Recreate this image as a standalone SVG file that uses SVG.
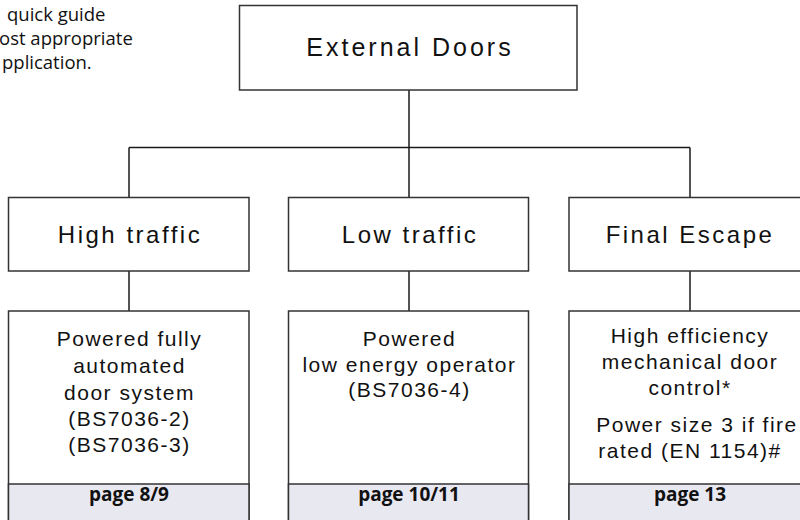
<svg xmlns="http://www.w3.org/2000/svg" width="800" height="520" viewBox="0 0 800 520">
  <style>
    .box { fill: #ffffff; stroke: #333333; stroke-width: 1.5; }
    .band { fill: #e8e8f1; stroke: #333333; stroke-width: 1.5; }
    .conn { fill: none; stroke: #1a1a1a; stroke-width: 1.5; }
    .hand { font-family: "Comic Sans MS", "Liberation Sans", sans-serif; fill: #111111; text-anchor: middle; }
    .title { font-size: 25px; letter-spacing: 3px; }
    .head { font-size: 24px; letter-spacing: 2.5px; }
    .body { font-size: 21px; letter-spacing: 1.5px; }
    .page { font-family: "Open Sans", "Noto Sans", sans-serif; font-size: 19px; font-weight: bold; fill: #111111; text-anchor: middle; }
    .intro { font-family: "Open Sans", "Noto Sans", sans-serif; font-size: 18.5px; fill: #111111; }
  </style>

  <g id="intro">
    <text class="intro" x="7" y="21">quick guide</text>
    <text class="intro" x="-1" y="45">ost appropriate</text>
    <text class="intro" x="2" y="69">pplication.</text>
  </g>

  <g id="connectors">
    <line class="conn" x1="409" y1="90" x2="409" y2="147.5"/>
    <line class="conn" x1="129" y1="147.5" x2="690" y2="147.5"/>
    <line class="conn" x1="129" y1="147.5" x2="129" y2="197.5"/>
    <line class="conn" x1="409" y1="147.5" x2="409" y2="197.5"/>
    <line class="conn" x1="690" y1="147.5" x2="690" y2="197.5"/>
    <line class="conn" x1="129" y1="271" x2="129" y2="311"/>
    <line class="conn" x1="409" y1="271" x2="409" y2="311"/>
    <line class="conn" x1="690" y1="271" x2="690" y2="311"/>
  </g>

  <g id="external-doors">
    <rect class="box" x="239.5" y="5.5" width="337.5" height="84.5"/>
    <text class="hand title" x="410" y="56">External Doors</text>
  </g>

  <g id="high-traffic">
    <rect class="box" x="8.5" y="197.5" width="240.5" height="73.5"/>
    <text class="hand head" x="130" y="243">High traffic</text>
  </g>

  <g id="low-traffic">
    <rect class="box" x="288.5" y="197.5" width="240" height="73.5"/>
    <text class="hand head" x="410" y="243">Low traffic</text>
  </g>

  <g id="final-escape">
    <rect class="box" x="569" y="197.5" width="240" height="73.5"/>
    <text class="hand head" x="690" y="243">Final Escape</text>
  </g>

  <g id="powered-fully-automated">
    <rect class="box" x="8.5" y="311" width="240.5" height="220"/>
    <rect class="band" x="8.5" y="484" width="240.5" height="47"/>
    <text class="hand body" x="129.5" y="346">Powered fully</text>
    <text class="hand body" x="129.5" y="373">automated</text>
    <text class="hand body" x="129.5" y="400">door system</text>
    <text class="hand body" x="129.5" y="426">(BS7036-2)</text>
    <text class="hand body" x="129.5" y="452">(BS7036-3)</text>
    <text class="page" x="129" y="501">page 8/9</text>
  </g>

  <g id="powered-low-energy">
    <rect class="box" x="288.5" y="311" width="240" height="220"/>
    <rect class="band" x="288.5" y="484" width="240" height="47"/>
    <text class="hand body" x="409.5" y="346">Powered</text>
    <text class="hand body" x="409.5" y="372">low energy operator</text>
    <text class="hand body" x="409.5" y="397">(BS7036-4)</text>
    <text class="page" x="409" y="501">page 10/11</text>
  </g>

  <g id="mechanical-door-control">
    <rect class="box" x="569" y="311" width="240" height="220"/>
    <rect class="band" x="569" y="484" width="240" height="47"/>
    <text class="hand body" x="690" y="343">High efficiency</text>
    <text class="hand body" x="690" y="369">mechanical door</text>
    <text class="hand body" x="690" y="395">control*</text>
    <text class="hand body" x="697" y="432">Power size 3 if fire</text>
    <text class="hand body" x="690" y="458">rated (EN 1154)#</text>
    <text class="page" x="690" y="501">page 13</text>
  </g>
</svg>
